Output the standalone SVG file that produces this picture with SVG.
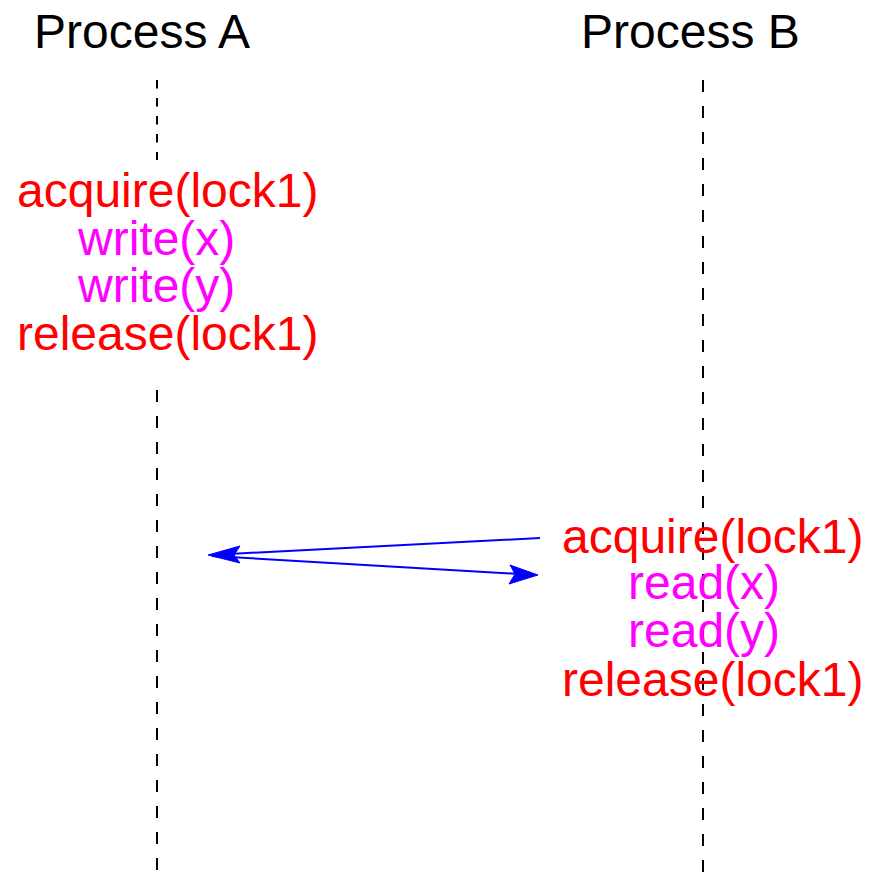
<svg xmlns="http://www.w3.org/2000/svg" width="870" height="881" viewBox="0 0 870 881">
  <style>
    text { font-family: "Liberation Sans", Arial, sans-serif; font-size: 48px; }
    .title { fill: #000000; }
    .lock { fill: #ff0000; }
    .op { fill: #ff00ff; }
    .life { stroke: #000000; stroke-width: 2; fill: none; }
    .life-top { stroke-dasharray: 8.5 9.5; }
    .life-low { stroke-dasharray: 12 14; }
    .msg { stroke: #0000ff; stroke-width: 2; fill: none; }
    .head { fill: #0000ff; stroke: #0000ff; stroke-width: 1; stroke-linejoin: round; }
  </style>
  <rect width="870" height="881" fill="#ffffff"/>

  <!-- lifelines -->
  <g id="lifelines">
    <line class="life life-top" x1="157" y1="80" x2="157" y2="160"/>
    <line class="life life-low" x1="157" y1="390" x2="157" y2="881"/>
    <line class="life life-low" x1="703" y1="80" x2="703" y2="872"/>
  </g>

  <g id="process-a">
    <text class="title" x="34" y="48">Process A</text>
    <text class="lock" x="17" y="207">acquire(lock1)</text>
    <text class="op" x="78" y="255">write(x)</text>
    <text class="op" x="78" y="302">write(y)</text>
    <text class="lock" x="17" y="350">release(lock1)</text>
  </g>

  <g id="process-b">
    <text class="title" x="581" y="48">Process B</text>
    <text class="lock" x="562" y="553">acquire(lock1)</text>
    <text class="op" x="628" y="599">read(x)</text>
    <text class="op" x="628" y="647">read(y)</text>
    <text class="lock" x="562" y="696">release(lock1)</text>
  </g>

  <!-- request / grant messages -->
  <g id="connectors">
    <line class="msg" x1="540" y1="538" x2="225" y2="554.2"/>
    <polygon class="head" points="208,555 240,546 234,555 240,563"/>
    <line class="msg" x1="212" y1="556" x2="520" y2="574"/>
    <polygon class="head" points="538,575 510,565 515,574 509,584"/>
  </g>
</svg>
